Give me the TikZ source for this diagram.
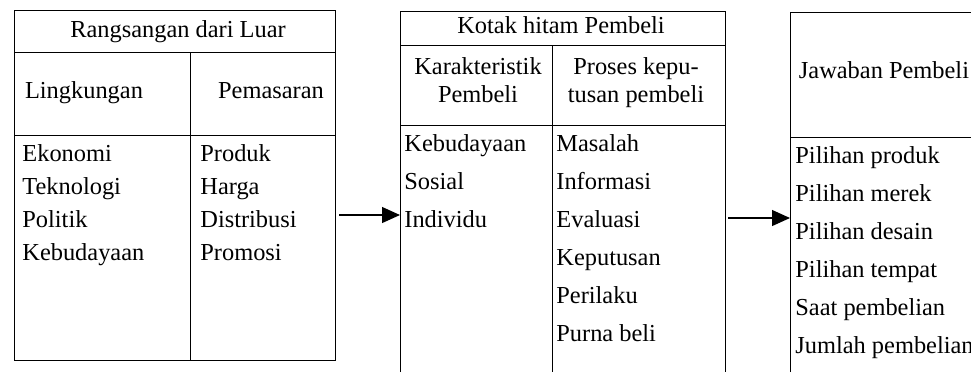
\documentclass[tikz,border=0pt]{standalone}
\usepackage{fontspec}
\setmainfont{Liberation Serif}
\usetikzlibrary{arrows.meta,positioning}

\begin{document}
\begin{tikzpicture}[x=0.5pt,y=-0.5pt,
    frame/.style={line width=0.5pt},
    head/.style={inner sep=0pt,anchor=base,font=\fontsize{12.2}{14}\selectfont},
    item/.style={inner sep=0pt,anchor=base west,font=\fontsize{12.2}{14}\selectfont},
    flow/.style={line width=0.6pt,-{Triangle[length=9pt,width=8pt]}}]
      \useasboundingbox (0,0) rectangle (971,372);

      % Rangsangan dari Luar
      \draw[frame] (14,10) rectangle (335,360);
      \draw[frame] (14,52) -- (335,52);
      \draw[frame] (14,135) -- (335,135);
      \draw[frame] (190,52) -- (190,360);
      \node[head] (luar) at (178,37) {Rangsangan dari Luar};
      \node[head] (lingk) at (84,98) {Lingkungan};
      \node[head] (pemas) at (271,98) {Pemasaran};
      \node[item] (eko) at (22,161) {Ekonomi};
      \node[item] (tek) at (22,194) {Teknologi};
      \node[item] (pol) at (22,227) {Politik};
      \node[item] (keb) at (22,260) {Kebudayaan};
      \node[item] (prod) at (200,161) {Produk};
      \node[item] (harga) at (200,194) {Harga};
      \node[item] (dist) at (200,227) {Distribusi};
      \node[item] (promo) at (200,260) {Promosi};

      % Kotak hitam Pembeli
      \draw[frame] (400,372) -- (400,11) -- (725,11) -- (725,372);
      \draw[frame] (400,45) -- (725,45);
      \draw[frame] (400,125) -- (725,125);
      \draw[frame] (552,45) -- (552,372);
      \node[head] (kotak) at (561,33) {Kotak hitam Pembeli};
      \node[head] (kar1) at (478,74) {Karakteristik};
      \node[head] (kar2) at (478,102) {Pembeli};
      \node[head] (pros1) at (636,74) {Proses kepu-};
      \node[head] (pros2) at (636,102) {tusan pembeli};
      \node[item] (budaya) at (404,151) {Kebudayaan};
      \node[item] (sosial) at (404,189) {Sosial};
      \node[item] (indiv) at (404,227) {Individu};
      \node[item] (masalah) at (556,151) {Masalah};
      \node[item] (info) at (556,189) {Informasi};
      \node[item] (eval) at (556,227) {Evaluasi};
      \node[item] (kepu) at (556,265) {Keputusan};
      \node[item] (peri) at (556,303) {Perilaku};
      \node[item] (purna) at (556,341) {Purna beli};

      % Jawaban Pembeli
      \draw[frame] (790,372) -- (790,12) -- (971,12);
      \draw[frame] (790,137) -- (971,137);
      \node[head] (jawab) at (884,78) {Jawaban Pembeli};
      \node[item] (pil1) at (795,163) {Pilihan produk};
      \node[item] (pil2) at (795,201) {Pilihan merek};
      \node[item] (pil3) at (795,239) {Pilihan desain};
      \node[item] (pil4) at (795,277) {Pilihan tempat};
      \node[item] (saat) at (795,315) {Saat pembelian};
      \node[item] (jumlah) at (795,353) {Jumlah pembelian};

      % arrows
      \coordinate (a1) at (339,215);
      \coordinate (kotakW) at (400,215);
      \coordinate (a2) at (728,218);
      \coordinate (jawabW) at (790,218);
      \draw[flow] (a1) -- (kotakW);
      \draw[flow] (a2) -- (jawabW);
    \end{tikzpicture}
\end{document}
